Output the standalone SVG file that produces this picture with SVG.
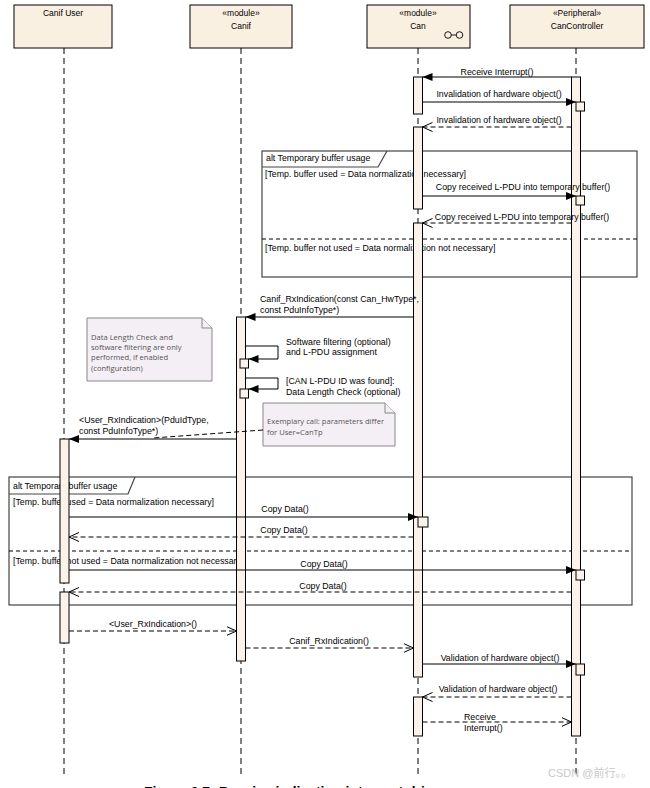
<svg xmlns="http://www.w3.org/2000/svg" width="650" height="788" viewBox="0 0 650 788">
<style>
text{font-family:"Liberation Sans",Arial,sans-serif;font-size:8.8px;fill:#000}
.c{text-anchor:middle}
.h{font-size:8.5px}
.hdr{fill:#faf0e2;stroke:#000;stroke-width:1}
.life{stroke:#000;stroke-width:1;stroke-dasharray:6,4;fill:none}
.act{fill:#fbf3ea;stroke:#000;stroke-width:1}
.msg{stroke:#000;stroke-width:1;fill:none}
.ret{stroke:#000;stroke-width:1;fill:none;stroke-dasharray:5,3}
.frm{fill:none;stroke:#444;stroke-width:1.2}
.sep{stroke:#000;stroke-width:1;stroke-dasharray:4,3}
.note{fill:#f4eff4;stroke:#888;stroke-width:1}
.nt{font-family:"Open Sans","Liberation Sans",sans-serif;font-size:7.6px;fill:#555}
</style>
<defs>
<marker id="fill" markerUnits="userSpaceOnUse" markerWidth="11" markerHeight="8" refX="10" refY="4" orient="auto"><path d="M0,0 L10,4 L0,8 z" fill="#000"/></marker>
<marker id="open" markerUnits="userSpaceOnUse" markerWidth="12" markerHeight="10" refX="10" refY="5" orient="auto"><path d="M0,0.5 L10,5 L0,9.5" fill="none" stroke="#000" stroke-width="1"/></marker>
</defs>
<rect width="650" height="788" fill="#fff"/>

<g id="frame1">
<rect class="frm" x="262" y="151" width="375" height="126"/>
<path class="frm" d="M262,167 H378 L387,151"/>
<text x="266" y="160.5">alt Temporary buffer usage</text>
<text x="265" y="177">[Temp. buffer used = Data normalization necessary]</text>
<line class="sep" x1="262" y1="239" x2="637" y2="239"/>
<text x="265" y="251">[Temp. buffer not used = Data normalization not necessary]</text>
</g>
<g id="frame2">
<rect class="frm" x="9" y="477" width="623" height="128"/>
<path class="frm" d="M9,494 H128 L135,477"/>
<text x="13" y="488.5">alt Temporary buffer usage</text>
<text x="13" y="504.5">[Temp. buffer used = Data normalization necessary]</text>
<line class="sep" x1="9" y1="551" x2="632" y2="551"/>
<text x="13" y="564">[Temp. buffer not used = Data normalization not necessary]</text>
</g>

<g id="canifuser">
<rect class="hdr" x="14" y="5" width="98" height="43"/>
<text class="c h" x="63" y="16">Canif User</text>
<line class="life" x1="64" y1="48" x2="64" y2="778"/>
<rect class="act" x="60" y="439" width="9" height="144"/>
<rect class="act" x="60" y="592" width="9" height="51"/>
</g>
<g id="canif">
<rect class="hdr" x="190" y="5" width="102" height="43"/>
<text class="c h" x="241" y="16">«module»</text>
<text class="c h" x="241" y="29">Canif</text>
<line class="life" x1="241" y1="48" x2="241" y2="778"/>
<rect class="act" x="236.5" y="317" width="9" height="344"/>
<rect class="act" x="240" y="359" width="8.5" height="9"/>
<rect class="act" x="240" y="389" width="8.5" height="9"/>
</g>
<g id="can">
<rect class="hdr" x="367" y="5" width="103" height="43"/>
<text class="c h" x="418" y="16">«module»</text>
<text class="c h" x="418" y="29">Can</text>
<circle cx="448" cy="35" r="3.3" fill="none" stroke="#000" stroke-width="0.9"/>
<circle cx="459.5" cy="35" r="3.3" fill="none" stroke="#000" stroke-width="0.9"/>
<line x1="451.3" y1="35" x2="456.2" y2="35" stroke="#000" stroke-width="0.9"/>
<line class="life" x1="418" y1="48" x2="418" y2="778"/>
<rect class="act" x="413.5" y="77" width="9" height="37"/>
<rect class="act" x="413.5" y="127" width="9" height="82"/>
<rect class="act" x="413.5" y="223" width="9" height="454"/>
<rect class="act" x="413.5" y="697" width="9" height="39"/>
<rect class="act" x="418" y="517" width="10" height="10"/>
</g>
<g id="cancontroller">
<rect class="hdr" x="510" y="5" width="134" height="43"/>
<text class="c h" x="577" y="16">«Peripheral»</text>
<text class="c h" x="577" y="29">CanController</text>
<line class="life" x1="576" y1="48" x2="576" y2="778"/>
<rect class="act" x="571.5" y="77" width="9" height="659"/>
<rect class="act" x="576" y="102" width="8.5" height="9"/>
<rect class="act" x="576" y="196" width="8.5" height="9"/>
<rect class="act" x="576" y="570" width="8.5" height="10"/>
<rect class="act" x="576" y="664" width="8.5" height="11"/>
</g>

<g id="note1">
<path class="note" d="M87,318 H202 L212,328 V381 H87 Z"/>
<path class="note" d="M202,318 V328 H212"/>
<text class="nt" x="91" y="340">Data Length Check and</text>
<text class="nt" x="91" y="350">software filtering are only</text>
<text class="nt" x="91" y="360">performed, if enabled</text>
<text class="nt" x="91" y="370.5">(configuration)</text>
</g>
<g id="note2">
<path class="note" d="M263,403 H385 L395,413 V446 H263 Z"/>
<path class="note" d="M385,403 V413 H395"/>
<text class="nt" x="267" y="424">Exemplary call: parameters differ</text>
<text class="nt" x="267" y="434.5">for User=CanTp</text>
</g>

<g id="connectors">
<line class="msg" x1="571.5" y1="77" x2="422.5" y2="77" marker-end="url(#fill)"/>
<text class="c" x="497" y="75">Receive Interrupt()</text>
<line class="msg" x1="422.5" y1="102" x2="576" y2="102" marker-end="url(#fill)"/>
<text class="c" x="499" y="97">Invalidation of hardware object()</text>
<line class="ret" x1="571.5" y1="127" x2="422.5" y2="127" marker-end="url(#open)"/>
<text class="c" x="499" y="122.5">Invalidation of hardware object()</text>
<line class="msg" x1="422.5" y1="196" x2="576" y2="196" marker-end="url(#fill)"/>
<text class="c" x="523" y="190">Copy received L-PDU into temporary buffer()</text>
<line class="ret" x1="571.5" y1="223" x2="422.5" y2="223" marker-end="url(#open)"/>
<text class="c" x="522" y="219.5">Copy received L-PDU into temporary buffer()</text>
<line class="msg" x1="413.5" y1="317" x2="245.5" y2="317" marker-end="url(#fill)"/>
<text x="260" y="301.5">Canif_RxIndication(const Can_HwType*,</text>
<text x="260" y="312.5">const PduInfoType*)</text>
<path class="msg" d="M245.5,346 H278 V359 H248.5" marker-end="url(#fill)"/>
<text x="286" y="344.5">Software filtering (optional)</text>
<text x="286" y="354.5">and L-PDU assignment</text>
<path class="msg" d="M245.5,378 H278 V389 H248.5" marker-end="url(#fill)"/>
<text x="286" y="384">[CAN L-PDU ID was found]:</text>
<text x="286" y="395">Data Length Check (optional)</text>
<line class="msg" x1="236.5" y1="439" x2="69" y2="439" marker-end="url(#fill)"/>
<text x="79" y="423">&lt;User_RxIndication&gt;(PduIdType,</text>
<text x="79" y="433.5">const PduInfoType*)</text>
<line class="ret" x1="263" y1="430" x2="153" y2="438" stroke-dasharray="3,3"/>
<line class="msg" x1="69" y1="517" x2="418" y2="517" marker-end="url(#fill)"/>
<text class="c" x="285" y="512">Copy Data()</text>
<line class="ret" x1="413.5" y1="537" x2="69" y2="537" marker-end="url(#open)"/>
<text class="c" x="284" y="533">Copy Data()</text>
<line class="msg" x1="69" y1="570" x2="576" y2="570" marker-end="url(#fill)"/>
<text class="c" x="324" y="567">Copy Data()</text>
<line class="ret" x1="571.5" y1="592" x2="69" y2="592" marker-end="url(#open)"/>
<text class="c" x="323" y="588.5">Copy Data()</text>
<line class="ret" x1="69" y1="631" x2="236.5" y2="631" marker-end="url(#open)"/>
<text class="c" x="153" y="627">&lt;User_RxIndication&gt;()</text>
<line class="ret" x1="245.5" y1="648" x2="413.5" y2="648" marker-end="url(#open)"/>
<text class="c" x="329" y="644">Canif_RxIndication()</text>
<line class="msg" x1="422.5" y1="664" x2="576" y2="664" marker-end="url(#fill)"/>
<text class="c" x="500" y="660.5">Validation of hardware object()</text>
<line class="ret" x1="571.5" y1="697" x2="422.5" y2="697" marker-end="url(#open)"/>
<text class="c" x="498" y="692">Validation of hardware object()</text>
<line class="ret" x1="422.5" y1="722" x2="571.5" y2="722" marker-end="url(#open)"/>
<text x="464" y="720">Receive</text>
<text x="464" y="731">Interrupt()</text>
</g>

<text x="144" y="797" style="font-size:14px;font-weight:bold">Figure 9.7: Receive indication interrupt driven</text>
<text x="548" y="777" style="font-family:'Liberation Sans','Noto Sans CJK SC',sans-serif;font-size:11px;fill:#c8c8c8">CSDN @前行。。</text>
</svg>
